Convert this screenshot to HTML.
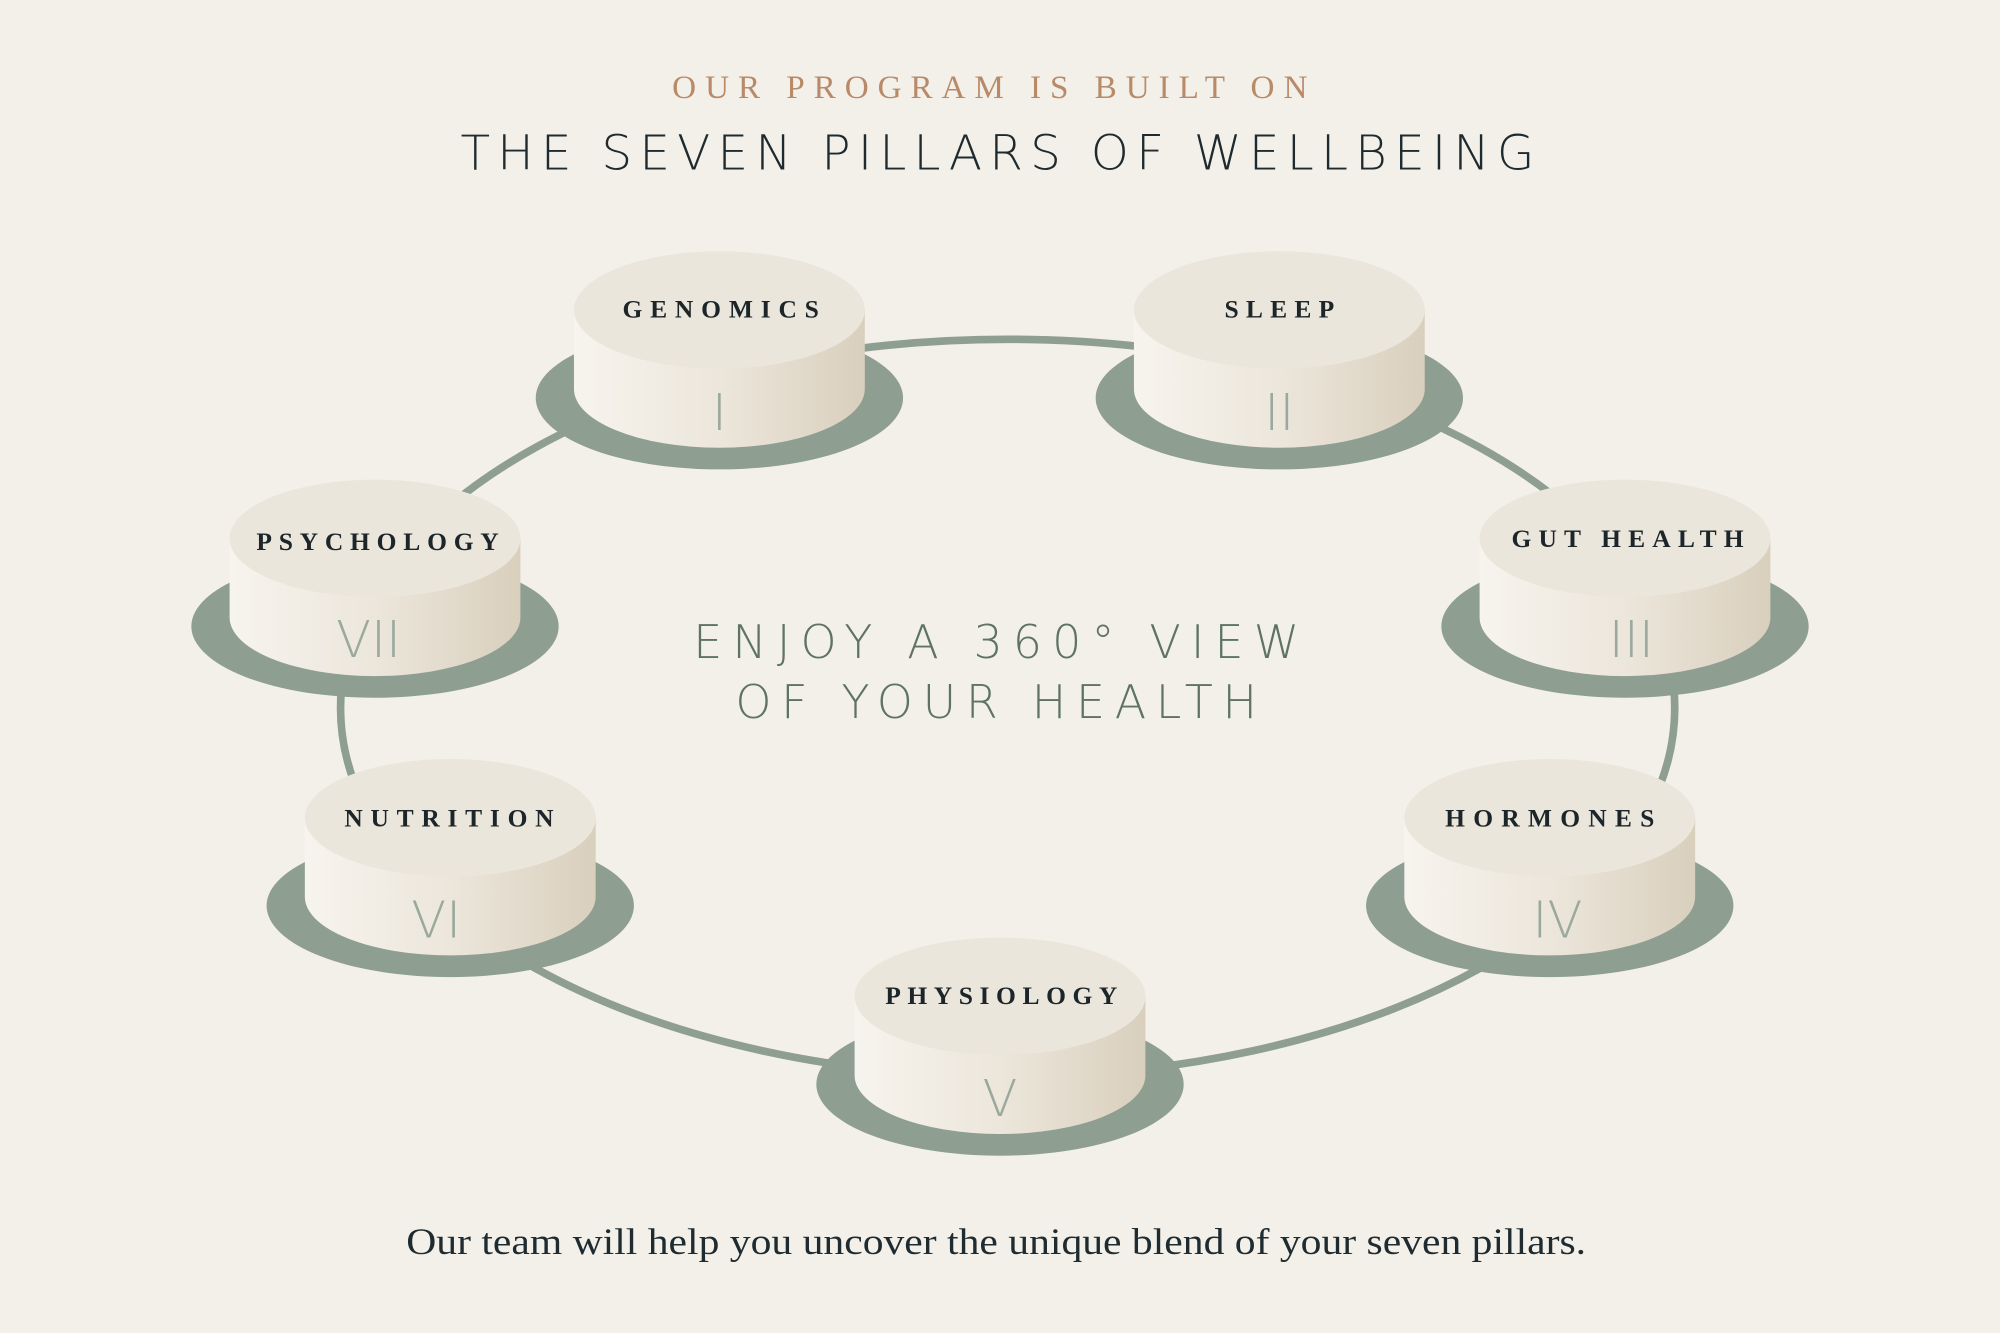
<!DOCTYPE html>
<html><head><meta charset="utf-8"><style>
html,body{margin:0;padding:0;background:#f3f0e9;}
svg{display:block;}
.lab{font-family:"Liberation Serif",serif;font-weight:bold;font-size:20px;fill:#1c2529;}
.num{font-family:"DejaVu Sans","Liberation Sans",sans-serif;font-weight:200;font-size:40px;fill:#9aa89d;}
</style></head><body>
<svg width="2000" height="1333" viewBox="0 0 1568 1045" preserveAspectRatio="none" xmlns="http://www.w3.org/2000/svg">
<defs>
<linearGradient id="side" x1="0" x2="1" y1="0" y2="0">
<stop offset="0" stop-color="#f7f4ee"/><stop offset="0.5" stop-color="#ece6db"/><stop offset="1" stop-color="#d9cfbd"/>
</linearGradient>
<g id="p">
<ellipse cx="0" cy="69" rx="144" ry="56" fill="#8e9e91"/>
<path d="M-114,0 L-114,62 A114,46 0 0 0 114,62 L114,0 Z" fill="url(#side)"/>
<ellipse cx="0" cy="0" rx="114" ry="46" fill="#ebe6dc"/>
</g>
</defs>
<rect width="1568" height="1045" fill="#f3f0e9"/>
<text x="776" y="77" text-anchor="middle" font-family="Liberation Serif,serif" font-size="26" fill="#b98a68" textLength="498" lengthAdjust="spacing">OUR PROGRAM IS BUILT ON</text>
<text x="782" y="133" text-anchor="middle" font-family="DejaVu Sans,Liberation Sans,sans-serif" font-weight="200" font-size="38" fill="#1f2a2e" textLength="842" lengthAdjust="spacing">THE SEVEN PILLARS OF WELLBEING</text>
<ellipse cx="790" cy="555" rx="523" ry="289" fill="none" stroke="#8e9e91" stroke-width="6"/>
<use href="#p" x="564" y="243"/>
<use href="#p" x="1003" y="243"/>
<use href="#p" x="1274" y="422"/>
<use href="#p" x="1215" y="641"/>
<use href="#p" x="784" y="781"/>
<use href="#p" x="353" y="641"/>
<use href="#p" x="294" y="422"/>
<g class="lab" text-anchor="middle">
<text x="565" y="249" textLength="154" lengthAdjust="spacing">GENOMICS</text>
<text x="1003" y="249" textLength="86" lengthAdjust="spacing">SLEEP</text>
<text x="1276" y="429" textLength="182" lengthAdjust="spacing">GUT HEALTH</text>
<text x="1215" y="648" textLength="164" lengthAdjust="spacing">HORMONES</text>
<text x="785" y="787" textLength="182" lengthAdjust="spacing">PHYSIOLOGY</text>
<text x="352" y="648" textLength="164" lengthAdjust="spacing">NUTRITION</text>
<text x="296" y="431" textLength="190" lengthAdjust="spacing">PSYCHOLOGY</text>
</g>
<g class="num" text-anchor="middle">
<text x="564" y="337">I</text>
<text x="1003" y="337">II</text>
<text x="1279" y="515">III</text>
<text x="1221" y="735">IV</text>
<text x="784" y="875">V</text>
<text x="342" y="735">VI</text>
<text x="289" y="515">VII</text>
</g>
<g font-family="DejaVu Sans,Liberation Sans,sans-serif" font-weight="200" font-size="36" fill="#5e7363" text-anchor="middle">
<text x="781" y="516" textLength="475" lengthAdjust="spacing">ENJOY A 360° VIEW</text>
<text x="781" y="563" textLength="409" lengthAdjust="spacing">OF YOUR HEALTH</text>
</g>
<text x="781" y="983" text-anchor="middle" font-family="Liberation Serif,serif" font-size="29" fill="#1e2b30" textLength="925" lengthAdjust="spacingAndGlyphs">Our team will help you uncover the unique blend of your seven pillars.</text>
</svg>
</body></html>
